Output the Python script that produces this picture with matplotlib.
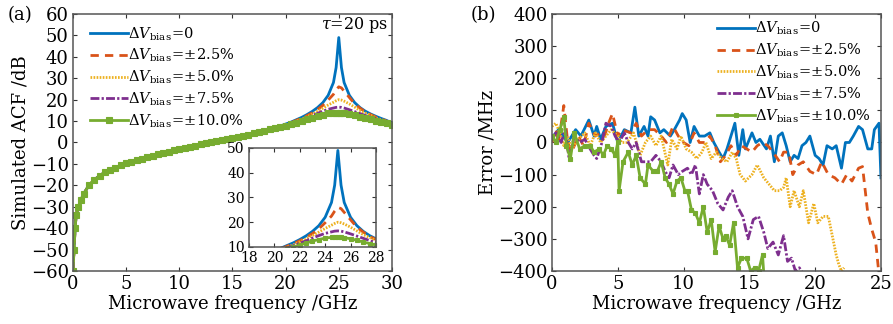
import matplotlib
matplotlib.use('Agg')
import matplotlib.pyplot as plt

plt.rcParams['font.family'] = 'DejaVu Serif'
plt.rcParams['mathtext.fontset'] = 'dejavuserif'
plt.rcParams['axes.unicode_minus'] = True

# Цвета и стили линий для пяти значений смещения
colors = ['#0072BD', '#D95319', '#EDB120', '#7E2F8E', '#77AC30']
labels = [r'$\Delta V_{\mathrm{bias}}\!=\!0$',
          r'$\Delta V_{\mathrm{bias}}\!=\!{\pm}2.5\%$',
          r'$\Delta V_{\mathrm{bias}}\!=\!{\pm}5.0\%$',
          r'$\Delta V_{\mathrm{bias}}\!=\!{\pm}7.5\%$',
          r'$\Delta V_{\mathrm{bias}}\!=\!{\pm}10.0\%$']

## (a) Моделированная АКФ
# Общий участок (до 19 ГГц кривые совпадают)
freq_low = [0, 0.1, 0.2, 0.3, 0.5, 0.75, 1.0, 1.5, 2.0, 2.5, 3.0, 3.5, 4.0, 4.5,
            5.0, 5.5, 6.0, 6.5, 7.0, 7.5, 8.0, 8.5, 9.0, 9.5, 10.0, 10.5, 11.0,
            11.5, 12.0, 12.5, 13.0, 13.5, 14.0, 14.5, 15.0, 15.5, 16.0, 16.5,
            17.0, 17.5, 18.0, 18.5]
acf_low = [-60, -50, -40, -34, -30, -27, -24, -20, -17.5, -15.5, -14, -12.8,
           -11.7, -10.7, -9.8, -9.0, -8.2, -7.5, -6.8, -6.1, -5.5, -4.9, -4.3,
           -3.7, -3.1, -2.6, -2.0, -1.5, -0.9, -0.4, 0.1, 0.6, 1.1, 1.6, 2.1,
           2.6, 3.1, 3.7, 4.3, 4.9, 5.6, 6.3]
# Участок резонанса
freq_peak = [19, 19.5, 20, 20.5, 21, 21.5, 22, 22.5, 23, 23.5, 24, 24.5, 24.75,
             25, 25.25, 25.5, 26, 26.5, 27, 27.5, 28, 28.5, 29, 29.5, 30]
acf_peak_0 = [7.0, 7.7, 8.6, 9.5, 10.6, 11.7, 13.0, 14.5, 16.3, 18.6, 22.0, 28.0,
              35.0, 49.0, 35.0, 28.0, 22.0, 18.6, 16.3, 14.6, 13.3, 12.2, 11.2,
              10.3, 9.0]
acf_peak_25 = [7.0, 7.6, 8.4, 9.3, 10.3, 11.3, 12.5, 13.8, 15.4, 17.3, 19.8, 22.5,
               24.5, 26.0, 25.5, 24.0, 21.0, 18.0, 16.0, 14.3, 13.0, 11.8, 10.9,
               10.0, 8.8]
acf_peak_50 = [6.9, 7.5, 8.2, 9.0, 9.9, 10.9, 12.0, 13.2, 14.6, 16.0, 17.5, 18.8,
               19.5, 20.0, 19.8, 19.3, 18.0, 16.5, 15.0, 13.8, 12.7, 11.5, 10.6,
               9.8, 8.7]
acf_peak_75 = [6.8, 7.4, 8.0, 8.8, 9.6, 10.5, 11.5, 12.5, 13.6, 14.6, 15.5, 16.1,
               16.4, 16.5, 16.4, 16.1, 15.3, 14.4, 13.5, 12.6, 11.8, 11.0, 10.2,
               9.5, 8.5]
acf_peak_100 = [6.7, 7.2, 7.8, 8.5, 9.2, 10.0, 10.8, 11.6, 12.4, 13.0, 13.6, 13.9,
                14.0, 14.0, 14.0, 13.8, 13.3, 12.7, 12.0, 11.4, 10.8, 10.1, 9.5,
                8.9, 8.2]
acf_peaks = [acf_peak_0, acf_peak_25, acf_peak_50, acf_peak_75, acf_peak_100]

## (b) Ошибка измерения частоты
err_f_0 = [0, 0.5, 1.2, 1.8, 2.2, 2.8, 3.2, 3.4, 3.7, 4.1, 4.6, 5.0, 5.5, 6.0,
           6.3, 6.6, 7.0, 7.3, 7.5, 7.8, 8.2, 8.5, 9.0, 9.3, 9.7, 9.9, 10.2,
           10.5, 10.8, 11.2, 11.6, 12.0, 12.3, 12.7, 13.0, 13.3, 13.6, 13.9,
           14.2, 14.5, 14.7, 15.0, 15.2, 15.5, 15.8, 16.3, 16.6, 16.9, 17.2,
           17.5, 17.8, 18.1, 18.4, 18.7, 19.0, 19.3, 19.6, 20.0, 20.3, 20.6,
           20.9, 21.3, 21.6, 22.0, 22.3, 22.6, 22.9, 23.3, 23.6, 24.0, 24.3,
           24.5, 24.85, 25.0]
err_0 = [15, 40, 0, 40, 20, 70, 20, 50, 10, 50, 60, 0, 40, 30, 110, 20, 50, 20,
         80, 70, 30, 40, 20, 40, 70, 90, 70, 0, 50, 20, 20, 30, 0, -30, -50, -20,
         20, 60, -40, 40, -20, 10, 30, 0, 10, -20, 20, -60, 20, 30, -10, -60,
         -40, -50, -10, 0, 20, -40, -50, -70, -10, -20, -10, -80, 0, 0, 20, 50,
         40, -20, -20, 40, 60, -110]

err_f_25 = [0, 0.3, 0.5, 0.9, 1.2, 1.5, 2.0, 2.4, 2.8, 3.3, 3.7, 4.0, 4.3, 4.6,
            5.0, 5.3, 6.0, 6.4, 6.8, 7.3, 7.8, 8.3, 8.7, 9.2, 9.6, 10.0, 10.4,
            10.8, 11.2, 11.6, 12.0, 12.4, 12.8, 13.2, 13.6, 14.0, 14.4, 14.8,
            15.2, 15.6, 16.0, 16.4, 16.8, 17.3, 17.6, 18.0, 18.3, 18.7, 19.1,
            19.6, 20.1, 20.5, 21.0, 21.5, 22.0, 22.4, 22.8, 23.3, 23.6, 24.0,
            24.3, 24.6, 24.85]
err_25 = [0, 40, 0, 115, 0, -30, 20, -10, 60, 20, 30, 20, 60, 90, 20, 40, 30,
          60, 20, 40, 40, 20, 0, 50, 20, 0, -10, 30, 0, 0, 20, -10, -60, -40,
          -10, -40, -10, -20, -30, -10, 0, -10, -30, -60, -30, -30, -100, -70,
          -60, -90, -100, -60, -100, -110, -130, -100, -120, -80, -75, -220,
          -270, -310, -410]

err_f_50 = [0, 0.3, 0.6, 0.9, 1.2, 1.5, 2.0, 2.5, 2.9, 3.3, 3.7, 4.1, 4.5, 5.0,
            5.3, 5.7, 6.2, 6.7, 7.1, 7.5, 7.9, 8.3, 8.8, 9.1, 9.5, 9.8, 10.2,
            10.6, 11.0, 11.4, 11.7, 12.1, 12.5, 12.9, 13.3, 13.7, 14.0, 14.3,
            14.7, 15.2, 15.6, 16.1, 16.5, 16.9, 17.3, 17.6, 17.8, 18.1, 18.4,
            18.8, 19.1, 19.5, 19.9, 20.2, 20.6, 21.0, 21.3, 21.6, 21.8, 22.0,
            22.2]
err_50 = [50, 60, 30, -10, 20, -20, 10, 30, -10, 30, 0, 20, 40, 20, 0, 0, 30,
          -40, 0, 20, -10, 20, -70, 10, -20, 20, -20, -30, -50, -30, 0, -50,
          -30, -50, -60, -30, -50, -100, -120, -100, -70, -110, -130, -150,
          -150, -140, -110, -200, -150, -200, -150, -250, -190, -250, -230,
          -230, -290, -350, -380, -400, -390]

err_f_75 = [0, 0.3, 0.7, 1.0, 1.3, 1.7, 2.1, 2.5, 2.9, 3.2, 3.4, 3.8, 4.1, 4.5,
            4.8, 5.1, 5.5, 5.8, 6.1, 6.4, 6.8, 7.2, 7.5, 7.9, 8.3, 8.6, 8.9, 9.2,
            9.6, 9.9, 10.3, 10.6, 10.9, 11.2, 11.5, 11.8, 12.2, 12.6, 13.0, 13.4,
            13.7, 14.1, 14.5, 14.9, 15.3, 15.7, 16.1, 16.4, 16.8, 17.2, 17.6,
            17.9, 18.2, 18.5, 18.8, 19.1]
err_75 = [10, 30, 0, 40, -50, 20, 0, 10, -20, -40, -50, 0, 60, 50, 20, 0, 30, 0,
          -20, 0, -60, -60, -60, -40, -60, -90, -110, -70, -100, -90, -80, -100,
          -70, -160, -100, -130, -150, -190, -210, -170, -150, -200, -230, -300,
          -240, -230, -280, -330, -310, -350, -290, -370, -360, -400, -390, -410]

err_f_100 = [0, 0.3, 0.6, 0.9, 1.1, 1.4, 1.7, 2.1, 2.5, 2.9, 3.2, 3.6, 3.9, 4.2,
             4.5, 4.8, 5.0, 5.1, 5.4, 5.8, 6.1, 6.4, 6.7, 7.1, 7.3, 7.7, 8.0,
             8.3, 8.6, 8.9, 9.2, 9.5, 9.8, 10.1, 10.3, 10.6, 10.9, 11.2, 11.5,
             11.8, 12.1, 12.4, 12.7, 13.0, 13.2, 13.5, 13.8, 14.1, 14.4, 14.8,
             15.1, 15.4, 15.7, 16.0, 16.1]
err_100 = [20, 0, 40, 80, -10, -50, 30, -20, -10, -10, -30, -20, -40, -10, -20,
           -40, 0, -150, -60, -30, -70, -40, -110, -130, -70, -90, -90, -60,
           -110, -130, -160, -120, -110, -150, -150, -210, -220, -250, -200,
           -280, -240, -340, -260, -300, -290, -320, -250, -390, -360, -360,
           -400, -390, -400, -350, -410]

err_freqs = [err_f_0, err_f_25, err_f_50, err_f_75, err_f_100]
err_vals = [err_0, err_25, err_50, err_75, err_100]


def line_style(i, ms):
    styles = [dict(ls='-', lw=2.0),
              dict(ls=(0, (3.0, 2.2)), lw=2.0),
              dict(ls=(0, (0.6, 0.5)), lw=2.0),
              dict(ls=(0, (3.2, 0.8, 0.8, 0.8)), lw=2.0),
              dict(ls='-', lw=2.0, marker='s', ms=ms, mew=0.8)]
    return styles[i]


def style_axes(ax, size=13):
    ax.tick_params(direction='in', length=3, width=0.8, labelsize=size,
                   top=True, right=True, colors='#333333', labelcolor='black',
                   pad=3)
    for sp in ax.spines.values():
        sp.set_color('#555555')
        sp.set_linewidth(1.1)


fig = plt.figure(figsize=(8.93, 3.24), dpi=100)

# Панель (a)
ax1 = fig.add_axes([0.0817, 0.1636, 0.3572, 0.7932])
for i in range(5):
    ax1.plot(freq_low + freq_peak, acf_low + acf_peaks[i], color=colors[i],
             label=labels[i], **line_style(i, 4.3))
ax1.set_xlim(0, 30)
ax1.set_ylim(-60, 60)
ax1.set_xticks(range(0, 31, 5))
ax1.set_yticks(range(-60, 61, 10))
style_axes(ax1)
ax1.set_xlabel('Microwave frequency /GHz', fontsize=13, labelpad=1)
ax1.set_ylabel('Simulated ACF /dB', fontsize=13, labelpad=1)
ax1.text(0.884, 0.957, r'$\tau$=20 ps', transform=ax1.transAxes,
         ha='center', va='center', fontsize=11.5)
ax1.legend(loc='upper left', bbox_to_anchor=(0.03, 0.985), frameon=False,
           fontsize=10.5, handlelength=2.6, handletextpad=0.0,
           labelspacing=0.3, borderaxespad=0.1)
fig.text(0.009, 0.955, '(a)', fontsize=13, va='center')

# Вставка с резонансным пиком
ins = fig.add_axes([0.2788, 0.2377, 0.1422, 0.3056])
for i in range(5):
    ins.plot(freq_low + freq_peak, acf_low + acf_peaks[i], color=colors[i],
             **line_style(i, 3.2))
ins.set_xlim(18, 28)
ins.set_ylim(10, 50)
ins.set_xticks(range(18, 29, 2))
ins.set_yticks(range(10, 51, 10))
style_axes(ins, size=10)

# Панель (b)
ax2 = fig.add_axes([0.6181, 0.1636, 0.3684, 0.7932])
for i in range(5):
    ax2.plot(err_freqs[i], err_vals[i], color=colors[i], label=labels[i],
             **line_style(i, 3.5))
ax2.set_xlim(0, 25)
ax2.set_ylim(-400, 400)
ax2.set_xticks(range(0, 26, 5))
ax2.set_yticks(range(-400, 401, 100))
style_axes(ax2)
ax2.set_xlabel('Microwave frequency /GHz', fontsize=13, labelpad=1)
ax2.set_ylabel('Error /MHz', fontsize=13, labelpad=1)
ax2.legend(loc='upper right', bbox_to_anchor=(0.99, 1.005), frameon=False,
           fontsize=10.5, handlelength=2.6, handletextpad=0.0,
           labelspacing=0.3, borderaxespad=0.1)
fig.text(0.527, 0.955, '(b)', fontsize=13, va='center')

fig.savefig('out.png', dpi=100)
